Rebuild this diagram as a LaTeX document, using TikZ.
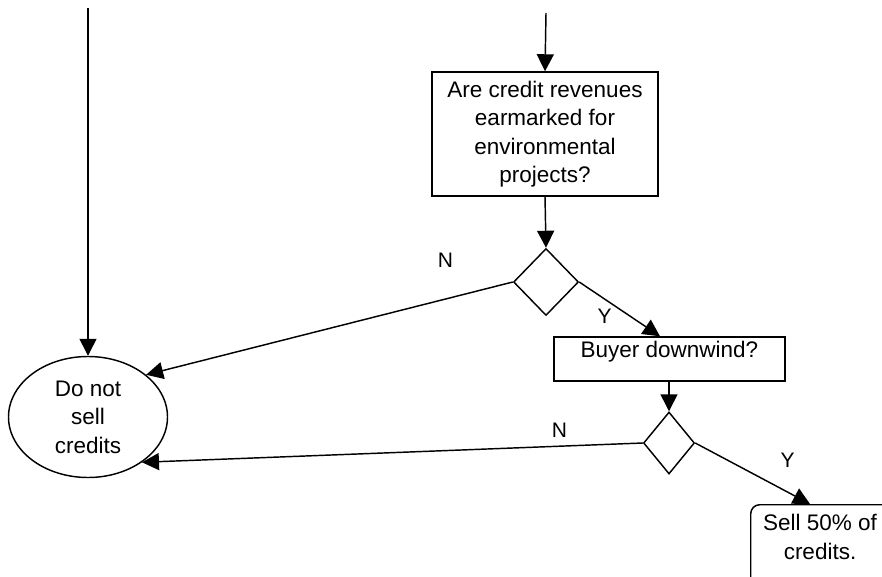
\documentclass[tikz,border=0pt]{standalone}
\usepackage{fontspec}
\setmainfont{Liberation Sans}
\usetikzlibrary{shapes.geometric,arrows.meta}
\begin{document}
\begin{tikzpicture}[x=1pt,y=-1pt,
  every node/.style={font=\fontsize{22.5}{28.5}\selectfont, inner sep=0pt},
  flow/.style={line width=1.45pt, -{Triangle[length=17pt,width=17pt]}},
  boxnode/.style={draw, line width=1.45pt, align=center},
  decision/.style={draw, line width=1.45pt, diamond, minimum width=65pt, minimum height=67pt},
  lbl/.style={font=\fontsize{21}{25}\selectfont}
]
\useasboundingbox (0,0) rectangle (882,577);
\clip (0,0) rectangle (882,577);

\coordinate (topA) at (88,8);
\coordinate (topB) at (546,13);

\node[boxnode, minimum width=226pt, minimum height=124pt] (q1) at (545,134)
  {Are credit revenues\\earmarked for\\environmental\\projects?};
\node[decision, minimum width=65pt, minimum height=67pt] (d1) at (546,282) {};
\node[boxnode, minimum width=231pt, minimum height=44pt, text height=16pt, text depth=19pt] (q2) at (669.5,359) {Buyer downwind?};
\node[decision, minimum width=51pt, minimum height=62pt] (d2) at (669,443) {};
\node[draw, line width=1.45pt, ellipse, minimum width=159pt, minimum height=121pt, align=center] (no) at (88,417)
  {Do not\\sell\\credits};
\node[draw, line width=1.45pt, rounded corners=9pt, anchor=north west, minimum width=160pt, minimum height=110pt] (sellbox) at (750,504) {};
\node[align=center] (selltxt) at (820,537) {Sell 50\% of\\credits.};
\coordinate (selltop) at (810,504);

\draw[flow] (topA) -- (no.north);
\draw[flow] (topB) -- (q1.north);
\draw[flow] (q1.south) -- (d1.north);
\draw[flow] (d1.east) -- (q2.north -| 660,0);
\draw[flow] (d1.west) -- (no.36);
\draw[flow] (q2.south -| d2.north) -- (d2.north);
\draw[flow] (d2.west) -- (no.-40);
\draw[flow] (d2.east) -- (selltop);

\node[lbl] (n1) at (445.5,260) {N};
\node[lbl] (y1) at (604.5,316) {Y};
\node[lbl] (n2) at (559.5,430) {N};
\node[lbl] (y2) at (787.5,460) {Y};
\end{tikzpicture}
\end{document}
